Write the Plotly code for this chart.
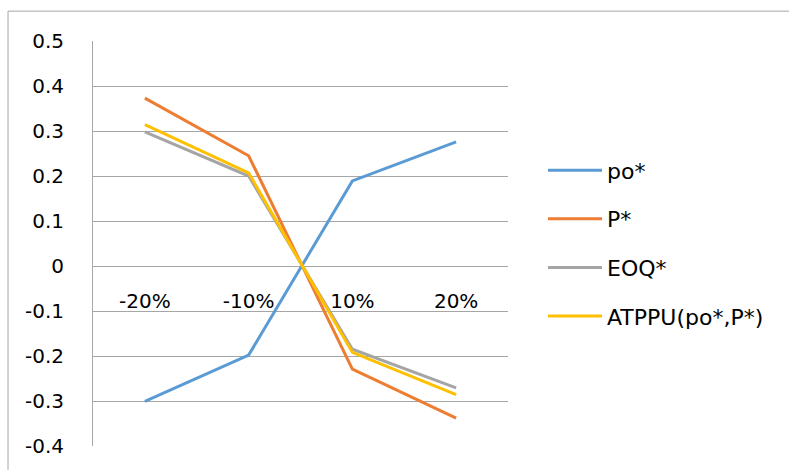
import plotly.graph_objects as go

categories = ["-20%", "-10%", "10%", "20%"]
po_star = [-0.301, -0.198, 0.189, 0.276]
p_star = [0.373, 0.245, -0.229, -0.338]
eoq_star = [0.298, 0.200, -0.185, -0.271]
atppu = [0.314, 0.207, -0.192, -0.286]
series_names = ["po*", "P*", "EOQ*", "ATPPU(po*,P*)"]
colors = ["#5B9BD5", "#ED7D31", "#A5A5A5", "#FFC000"]
y_ticks = [0.5, 0.4, 0.3, 0.2, 0.1, 0, -0.1, -0.2, -0.3, -0.4]

W, H = 789, 470
L, R, T, B = 93, 281, 41, 22
pw, ph = W - L - R, H - T - B

FONT = "DejaVu Sans"

fig = go.Figure()
for i, (name, vals) in enumerate(zip(series_names, [po_star, p_star, eoq_star, atppu])):
    fig.add_trace(go.Scatter(
        x=list(range(len(categories))), y=vals, mode="lines", name=name,
        line=dict(color=colors[i], width=3), legendgroup=f"g{i}",
    ))

ymin, ymax = -0.4, 0.5
fig.update_layout(
    width=W, height=H,
    margin=dict(l=L, r=R, t=T, b=B, pad=0),
    paper_bgcolor="white", plot_bgcolor="white",
    font=dict(family=FONT, size=20, color="#000000"),
    showlegend=True,
    legend=dict(x=(543 - L) / pw, y=(H - B - 150) / ph, xanchor="left", yanchor="top",
                tracegroupgap=17, itemwidth=54, font=dict(size=22, family=FONT),
                bgcolor="rgba(0,0,0,0)"),
    xaxis=dict(
        range=[-0.5, 3.5], tickmode="array", tickvals=list(range(len(categories))),
        ticktext=categories, showgrid=False, zeroline=False, showline=False,
        ticks="", anchor="free", position=(0 - ymin) / (ymax - ymin),
        ticklabelstandoff=21, tickfont=dict(size=20, family=FONT),
    ),
    yaxis=dict(
        range=[ymin, ymax], tickmode="array", tickvals=y_ticks,
        ticktext=[("%g" % v) for v in y_ticks],
        showgrid=True, gridcolor="#A6A6A6", gridwidth=1,
        zeroline=False, showline=True, linecolor="#A6A6A6", linewidth=1,
        ticks="", ticklabelstandoff=24, tickfont=dict(size=20, family=FONT),
    ),
)

# outer chart border (top and left edges visible)
x_left = (8 - L) / pw
x_right = (W + 2 - L) / pw
y_top = (H - B - 11) / ph
y_bot = (H - B - (H + 2)) / ph
fig.add_shape(type="line", xref="paper", yref="paper", x0=x_left, x1=x_right, y0=y_top, y1=y_top,
              line=dict(color="#A6A6A6", width=1))
fig.add_shape(type="line", xref="paper", yref="paper", x0=x_left, x1=x_left, y0=y_top, y1=y_bot,
              line=dict(color="#A6A6A6", width=1))

fig.write_html("out.html")
